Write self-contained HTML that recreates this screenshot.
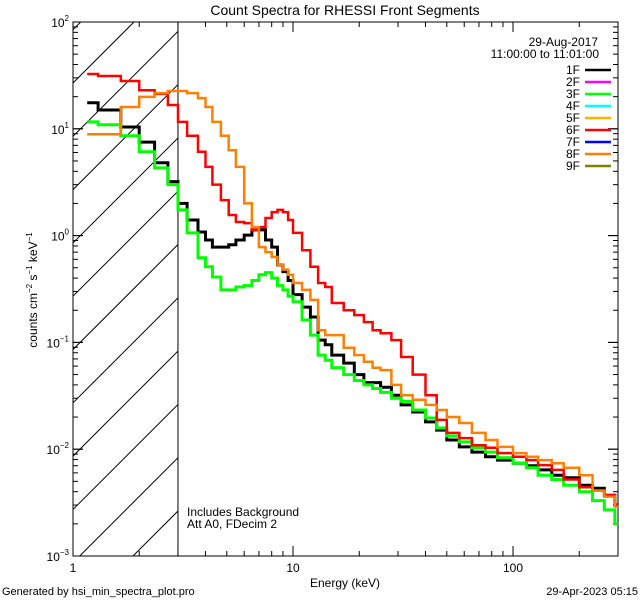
<!DOCTYPE html>
<html><head><meta charset="utf-8">
<style>
html,body{margin:0;padding:0;background:#fff;overflow:hidden;width:640px;height:600px;}
svg{display:block;position:absolute;left:0;top:0;font-family:"Liberation Sans",sans-serif;}
</style></head><body>
<svg id="chart" width="640" height="600" viewBox="0 0 640 600" xmlns="http://www.w3.org/2000/svg">
<rect width="640" height="600" fill="#fff"/>
<text x="345" y="15" font-size="14" text-anchor="middle">Count Spectra for RHESSI Front Segments</text>
<g id="hatch"></g>
<g id="axes"></g>
<g id="series"></g>
<g id="legend"></g>
<text x="187" y="516" font-size="12">Includes Background</text>
<text x="187" y="528" font-size="12">Att A0, FDecim 2</text>
<text x="345" y="587" font-size="12" text-anchor="middle">Energy (keV)</text>
<text transform="translate(37,290) rotate(-90)" font-size="12" text-anchor="middle">counts cm<tspan font-size="8" dy="-5">−2</tspan><tspan dy="5"> s</tspan><tspan font-size="8" dy="-5">−1</tspan><tspan dy="5"> keV</tspan><tspan font-size="8" dy="-5">−1</tspan></text>
<text x="2" y="595" font-size="11">Generated by hsi_min_spectra_plot.pro</text>
<text x="638" y="595" font-size="11" text-anchor="end">29-Apr-2023 05:15</text>
</svg>
<script>
const energies=[1.16,1.3,1.65,2,2.35,2.7,3,3.3,3.7,4,4.3,4.7,5.1,5.5,6,6.5,7,7.5,8,8.5,9,9.5,10,11,12,13,14,15,17,19,21,23,25,28,31,35,40,45,50,57,65,75,85,100,115,130,150,170,200,230,260,290];
const seg1F=[17.5,15,10.4,7.5,4.8,3.2,2.0,1.40,1.08,0.91,0.78,0.78,0.82,0.91,1.01,1.13,1.13,0.91,0.78,0.53,0.46,0.38,0.28,0.214,0.173,0.105,0.095,0.076,0.064,0.050,0.042,0.042,0.038,0.032,0.026,0.0223,0.018,0.0151,0.0122,0.0105,0.0094,0.0085,0.0079,0.0074,0.0070,0.0064,0.0057,0.0054,0.0046,0.0043,0.0037,0.0030];
const seg3F=[11.6,10.9,8.6,6.1,4.3,3.0,1.74,1.06,0.62,0.51,0.41,0.31,0.31,0.33,0.34,0.38,0.43,0.45,0.40,0.34,0.31,0.27,0.24,0.162,0.117,0.076,0.068,0.058,0.050,0.044,0.040,0.037,0.034,0.030,0.028,0.0233,0.0196,0.0158,0.0133,0.0117,0.0103,0.0094,0.0083,0.0074,0.0067,0.0057,0.0052,0.0046,0.0040,0.0033,0.0027,0.0020];
const seg6F=[32.6,31.2,28,23,21.2,16.7,11.6,8.6,6.1,4.4,3.0,2.15,1.56,1.34,1.31,1.13,1.2,1.46,1.66,1.74,1.66,1.40,1.06,0.73,0.51,0.36,0.33,0.234,0.20,0.18,0.155,0.13,0.122,0.105,0.073,0.050,0.032,0.0188,0.0142,0.0127,0.0109,0.0103,0.0092,0.0085,0.0079,0.0071,0.0064,0.0052,0.0044,0.0041,0.0037,0.0030];
const seg8F=[8.9,8.9,16,19.9,21.6,22.6,22.6,21.6,19.4,16,11.6,8.6,6.3,4.4,2.0,1.2,0.78,0.70,0.63,0.53,0.48,0.43,0.36,0.31,0.25,0.13,0.117,0.117,0.089,0.076,0.066,0.058,0.055,0.040,0.032,0.029,0.026,0.0233,0.020,0.0176,0.0142,0.0122,0.0105,0.0092,0.0085,0.0079,0.0074,0.0067,0.0057,0.0041,0.0036,0.0029];
const xTickValues=[1,10,100];
const xTickLabels=["1","10","100"];
const yTickExps=[2,1,0,-1,-2,-3];
const legendLabels=["1F","2F","3F","4F","5F","6F","7F","8F","9F"];
const legendColors=["#000000","#ff00ff","#00ff00","#00ffff","#ffb000","#ff0000","#0000ff","#ff8000","#808000"];
const X0=73,X1=618,Y0=22,Y1=556;
const xMinLog=0,xMaxLog=Math.log10(300),yMinLog=-3,yMaxLog=2;
function xs(e){return X0+(Math.log10(e)-xMinLog)/(xMaxLog-xMinLog)*(X1-X0);}
function ys(v){return Y1-(Math.log10(v)-yMinLog)/(yMaxLog-yMinLog)*(Y1-Y0);}
const NS="http://www.w3.org/2000/svg";
function mk(tag,attrs,parent){const el=document.createElementNS(NS,tag);for(const k in attrs)el.setAttribute(k,attrs[k]);parent.appendChild(el);return el;}
const axes=document.getElementById('axes');
const hatch=document.getElementById('hatch');
const defs=mk('defs',{},hatch);
const cp=mk('clipPath',{id:'hclip'},defs);
mk('rect',{x:X0,y:Y0,width:xs(3)-X0,height:Y1-Y0},cp);
const hg=mk('g',{'clip-path':'url(#hclip)'},hatch);
for(let k=-3;k<14;k++){
  const yb=83+k*53.3;
  const ln=mk('line',{x1:X0,y1:yb,x2:X0+700,y2:yb-700,stroke:'#000','stroke-width':1},hg);
  
  
}
const vl=mk('line',{x1:xs(3),y1:Y0,x2:xs(3),y2:Y1,stroke:'#000','stroke-width':1},hatch);


const fr=mk('rect',{x:X0,y:Y0,width:X1-X0,height:Y1-Y0,fill:'none',stroke:'#000','stroke-width':1},axes);


for(let d=0;d<3;d++){for(let m=1;m<10;m++){const e=m*Math.pow(10,d);if(e>300)break;const x=xs(e);const L=m===1?10:5;
 mk('line',{x1:x,y1:Y1,x2:x,y2:Y1-L,stroke:'#000'},axes);mk('line',{x1:x,y1:Y0,x2:x,y2:Y0+L,stroke:'#000'},axes);}}
xTickValues.forEach((v,i)=>{const t=mk('text',{x:xs(v),y:Y1+16,'font-size':12,'text-anchor':'middle'},axes);t.textContent=xTickLabels[i];
 
 });
for(let d=-3;d<2;d++){for(let m=1;m<=10;m++){const v=m*Math.pow(10,d);const y=ys(v);const L=(m===1||m===10)?10:5;
 mk('line',{x1:X0,y1:y,x2:X0+L,y2:y,stroke:'#000'},axes);mk('line',{x1:X1,y1:y,x2:X1-L,y2:y,stroke:'#000'},axes);}}
yTickExps.forEach(p=>{const t=mk('text',{x:X0-4,y:ys(Math.pow(10,p))+5,'font-size':12,'text-anchor':'end'},axes);
 t.innerHTML='10<tspan font-size="8" dy="-6">'+(p<0?'−'+(-p):p)+'</tspan>';
 
 });
const sg=document.getElementById('series');
const defs2=mk('defs',{},sg);
const cp2=mk('clipPath',{id:'pclip'},defs2);
mk('rect',{x:X0,y:Y0,width:X1-X0,height:Y1-Y0},cp2);
function stepPath(vals){let d='';for(let i=0;i<energies.length;i++){const e0=energies[i],e1=i+1<energies.length?energies[i+1]:300;const y=ys(vals[i]);
 d+=(i===0?'M':'L')+xs(e0).toFixed(1)+','+y.toFixed(1)+'L'+xs(e1).toFixed(1)+','+y.toFixed(1);}return d;}
[[seg1F,'#000000',3,'series-1f'],[seg3F,'#00ff00',3,'series-3f'],[seg6F,'#ff0000',2.5,'series-6f'],[seg8F,'#ff8000',2.5,'series-8f']].forEach(s=>{
 const p=mk('path',{d:stepPath(s[0]),fill:'none',stroke:s[1],'stroke-width':s[2],'clip-path':'url(#pclip)'},sg);
 
 });
const lg=document.getElementById('legend');
const t1=mk('text',{x:598,y:46,'font-size':12,'text-anchor':'end'},lg);t1.textContent='29-Aug-2017';


const t2=mk('text',{x:599,y:58,'font-size':12,'text-anchor':'end'},lg);t2.textContent='11:00:00 to 11:01:00';


legendLabels.forEach((lab,i)=>{const y=70+i*12;
 const t=mk('text',{x:580,y:y+4,'font-size':12,'text-anchor':'end'},lg);t.textContent=lab;
 
 
 const l=mk('line',{x1:585,y1:y,x2:611,y2:y,stroke:legendColors[i],'stroke-width':2.5},lg);
 
 });
</script>
</body></html>
